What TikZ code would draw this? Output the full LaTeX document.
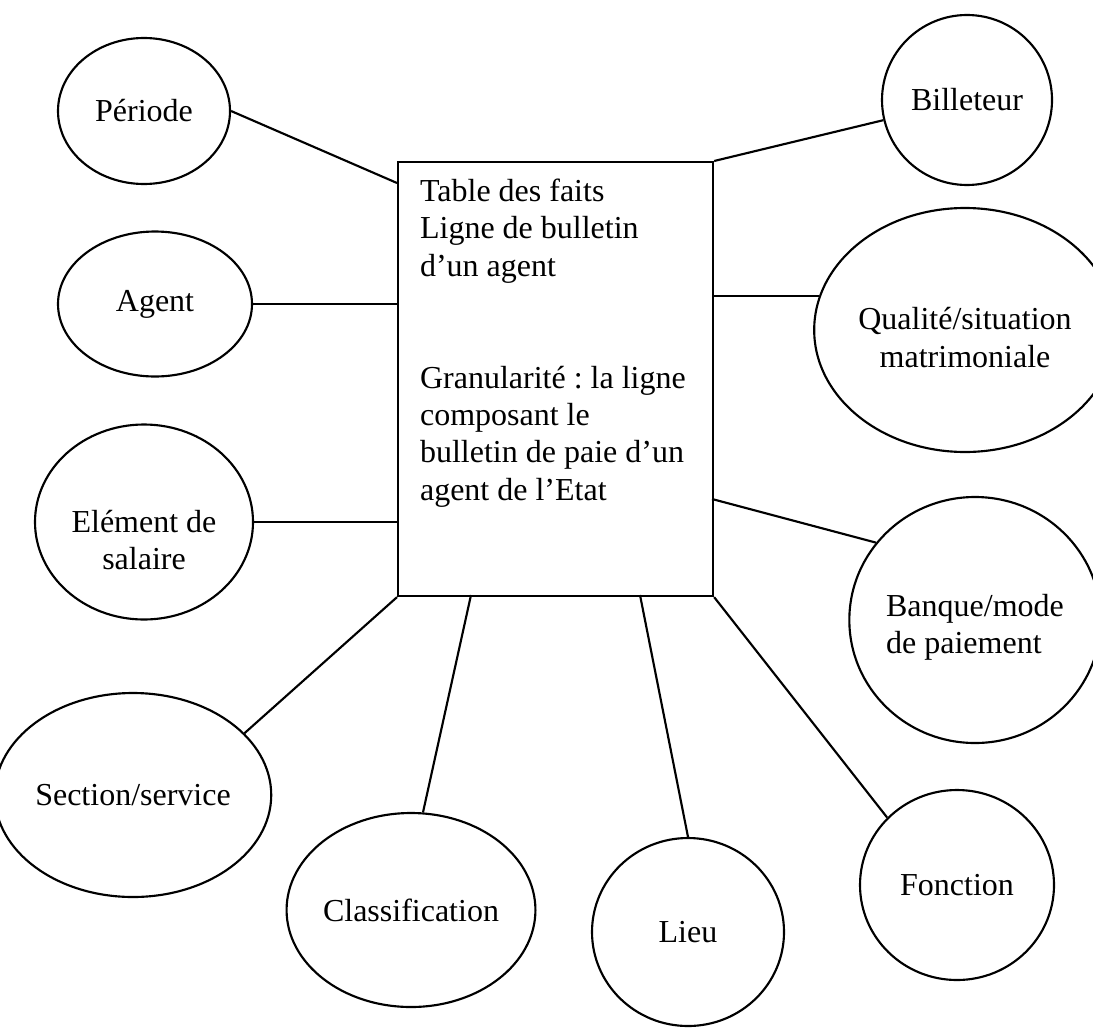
\documentclass[tikz,border=0pt]{standalone}
\usepackage{fontspec}
\setmainfont{Liberation Serif}
\usetikzlibrary{shapes.geometric, positioning}
\def\unitpx{0.375pt}

\begin{document}
\begin{tikzpicture}[x=\unitpx, y=-\unitpx, line width=0.8pt, font=\fontsize{12}{14}\selectfont\frenchspacing]
    \tikzstyle{dimension}=[ellipse, draw=black, inner sep=0pt, align=center]
    \tikzstyle{facts}=[rectangle, draw=black, inner sep=0pt, anchor=north west]

    \useasboundingbox (0,0) rectangle (1093,1031);

    \node[facts, minimum width=315*\unitpx, minimum height=434*\unitpx] (fact) at (397,161) {};
    \node[anchor=north west, align=left, inner sep=0pt] (factlabel) at (419,178)
        {Table des faits\\Ligne de bulletin\\d’un agent\\[28pt]Granularité : la ligne\\composant le\\bulletin de paie d’un\\agent de l’Etat};

    \node[dimension, minimum width=172*\unitpx, minimum height=146*\unitpx] (Per) at (144,111) {Période};
    \node[dimension, minimum width=194*\unitpx, minimum height=145*\unitpx] (Agent) at (155,304) {Agent};
    % text sits a little low in this one
    \node[dimension, minimum width=218*\unitpx, minimum height=195*\unitpx] (Elem) at (144,522) {\rule{0pt}{22pt}Elément de\\salaire};
    \node[dimension, minimum width=242*\unitpx, minimum height=204*\unitpx] (Sect) at (133,795) {Section/service};
    \node[dimension, minimum width=216*\unitpx, minimum height=194*\unitpx] (Class) at (411,910) {Classification};
    \node[dimension, minimum width=192*\unitpx, minimum height=188*\unitpx] (Lieu) at (688,932) {Lieu};
    \node[dimension, minimum width=194*\unitpx, minimum height=190*\unitpx] (Fonc) at (957,885) {Fonction};
    \node[dimension, align=left, minimum width=240*\unitpx, minimum height=246*\unitpx] (Bank) at (975,620) {\rule{0pt}{14pt}Banque/mode\\de paiement};
    \node[dimension, minimum width=260*\unitpx, minimum height=244*\unitpx] (Qual) at (965,330) {\rule{0pt}{14pt}Qualité/situation\\matrimoniale};
    \node[dimension, minimum width=170*\unitpx, minimum height=170*\unitpx] (Bill) at (967,100) {Billeteur};

    % attachment points on the fact table
    \coordinate (W-1) at (397,183);
    \coordinate (S-1) at (471,595);
    \coordinate (S-2) at (640,595);
    \coordinate (E-3) at (712,499);

    \draw (Per.east) -- (W-1);
    \draw (Agent) -- (Agent -| fact.west);
    \draw (Elem) -- (Elem -| fact.west);
    \draw (Sect.29) -- (fact.south west);
    \draw (Class.83) -- (S-1);
    \draw (Lieu.north) -- (S-2);
    \draw (Fonc.136) -- (fact.south east);
    \draw (Bank.142) -- (E-3);
    \draw (Qual.167) -- (Qual.167 -| fact.east);
    \draw (Bill) -- (fact.north east);
\end{tikzpicture}
\end{document}
